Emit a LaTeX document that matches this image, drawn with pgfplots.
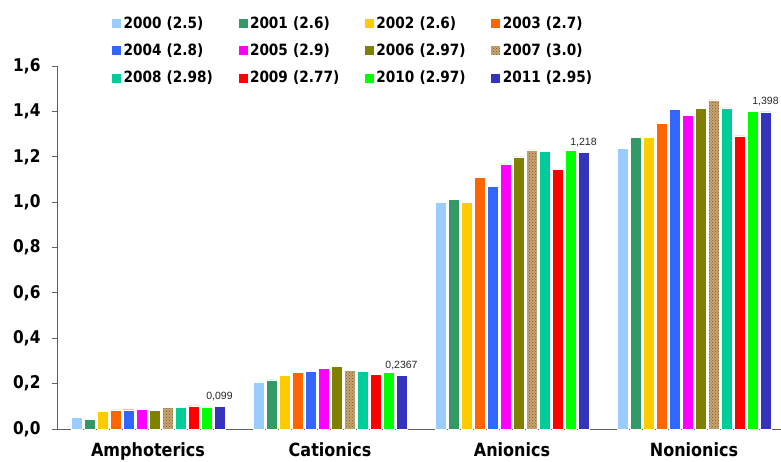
\documentclass[border=0pt]{standalone}
\usepackage{pgfplots}
\pgfplotsset{compat=1.18}
\usepackage{fontspec}
\setmainfont{DejaVu Sans}
\newfontfamily\tah{DejaVu Sans}[FakeStretch=0.88]
\newfontfamily\lab{Liberation Sans}
\usetikzlibrary{patterns}
\definecolor{c00}{HTML}{99CCFF}
\definecolor{c01}{HTML}{339966}
\definecolor{c02}{HTML}{FFCC00}
\definecolor{c03}{HTML}{FF6600}
\definecolor{c04}{HTML}{3366FF}
\definecolor{c05}{HTML}{FF00FF}
\definecolor{c06}{HTML}{808000}
\definecolor{c07}{HTML}{C8A472}
\definecolor{c07b}{HTML}{7A5A30}
\definecolor{c08}{HTML}{00CC99}
\definecolor{c09}{HTML}{FF0000}
\definecolor{c10}{HTML}{00FF00}
\definecolor{c11}{HTML}{3333BB}
\definecolor{axc}{HTML}{606060}
\begin{document}
\begin{tikzpicture}
\begin{axis}[
  at={(0pt,0pt)}, anchor=south west,
  scale only axis, width=724pt, height=363pt,
  xmin=-0.5, xmax=3.478, ymin=0, ymax=1.6,
  enlarge x limits=false,
  ybar=2.3pt, bar width=10.7pt,
  axis x line*=bottom, axis y line*=left,
  axis line style={draw=axc, line width=0.8pt},
  xtick={0,1,2,3},
  xticklabels={Amphoterics,Cationics,Anionics,Nonionics},
  x tick style={draw=none},
  ytick={0,0.2,0.4,0.6,0.8,1.0,1.2,1.4,1.6},
  y tick style={draw=axc, line width=0.8pt},
  tick align=outside, major tick length=5pt,
  yticklabel style={font=\tah\bfseries\fontsize{17.5}{17.5}\selectfont, text=black, xshift=-8pt,
    /pgf/number format/fixed, /pgf/number format/fixed zerofill,
    /pgf/number format/precision=1, /pgf/number format/use comma,
    /pgf/number format/assume math mode=true},
  xticklabel style={font=\tah\bfseries\fontsize{18.2}{18.2}\selectfont, text=black, yshift=-5.5pt},
  legend columns=4,
  legend image code/.code={\draw[#1] (0pt,-5pt) rectangle (10pt,5pt);},
  legend style={at={(0.0746,1.142)}, anchor=north west, draw=none, fill=none,
    font=\tah\bfseries\fontsize{15.5}{15.5}\selectfont,
    cells={anchor=west}, row sep=10pt, inner sep=0pt,
    /tikz/every even column/.append style={text width=112pt}},
]
\addplot[fill=c00, draw=white] coordinates {(0,0.050) (1,0.208) (2,1.000) (3,1.236)};
\addplot[fill=c01, draw=white] coordinates {(0,0.043) (1,0.217) (2,1.013) (3,1.286)};
\addplot[fill=c02, draw=white] coordinates {(0,0.078) (1,0.236) (2,1.000) (3,1.286)};
\addplot[fill=c03, draw=white] coordinates {(0,0.084) (1,0.251) (2,1.108) (3,1.346)};
\addplot[fill=c04, draw=white] coordinates {(0,0.085) (1,0.254) (2,1.071) (3,1.410)};
\addplot[fill=c05, draw=white] coordinates {(0,0.088) (1,0.267) (2,1.169) (3,1.382)};
\addplot[fill=c06, draw=white] coordinates {(0,0.081) (1,0.276) (2,1.200) (3,1.412)};
\addplot[fill=c07, draw=white, postaction={pattern=crosshatch dots, pattern color=c07b}] coordinates {(0,0.094) (1,0.257) (2,1.230) (3,1.451)};
\addplot[fill=c08, draw=white] coordinates {(0,0.094) (1,0.254) (2,1.224) (3,1.415)};
\addplot[fill=c09, draw=white] coordinates {(0,0.102) (1,0.242) (2,1.146) (3,1.292)};
\addplot[fill=c10, draw=white] coordinates {(0,0.097) (1,0.250) (2,1.229) (3,1.400)};
\addplot[fill=c11, draw=white, nodes near coords, point meta=explicit symbolic,
  nodes near coords style={font=\lab\fontsize{10.5}{10.5}\selectfont, text=black!85, anchor=south, yshift=2pt}]
  table[meta=lab] {
x y lab
0 0.099 0,099
1 0.2367 0,2367
2 1.218 1,218
3 1.398 1,398
};
\legend{2000 (2.5),2001 (2.6),2002 (2.6),2003 (2.7),2004 (2.8),2005 (2.9),2006 (2.97),2007 (3.0),2008 (2.98),2009 (2.77),2010 (2.97),2011 (2.95)}
\end{axis}
\pgfresetboundingbox
\path[use as bounding box] (-57pt,-32pt) rectangle (724pt,429pt);
\end{tikzpicture}
\end{document}
